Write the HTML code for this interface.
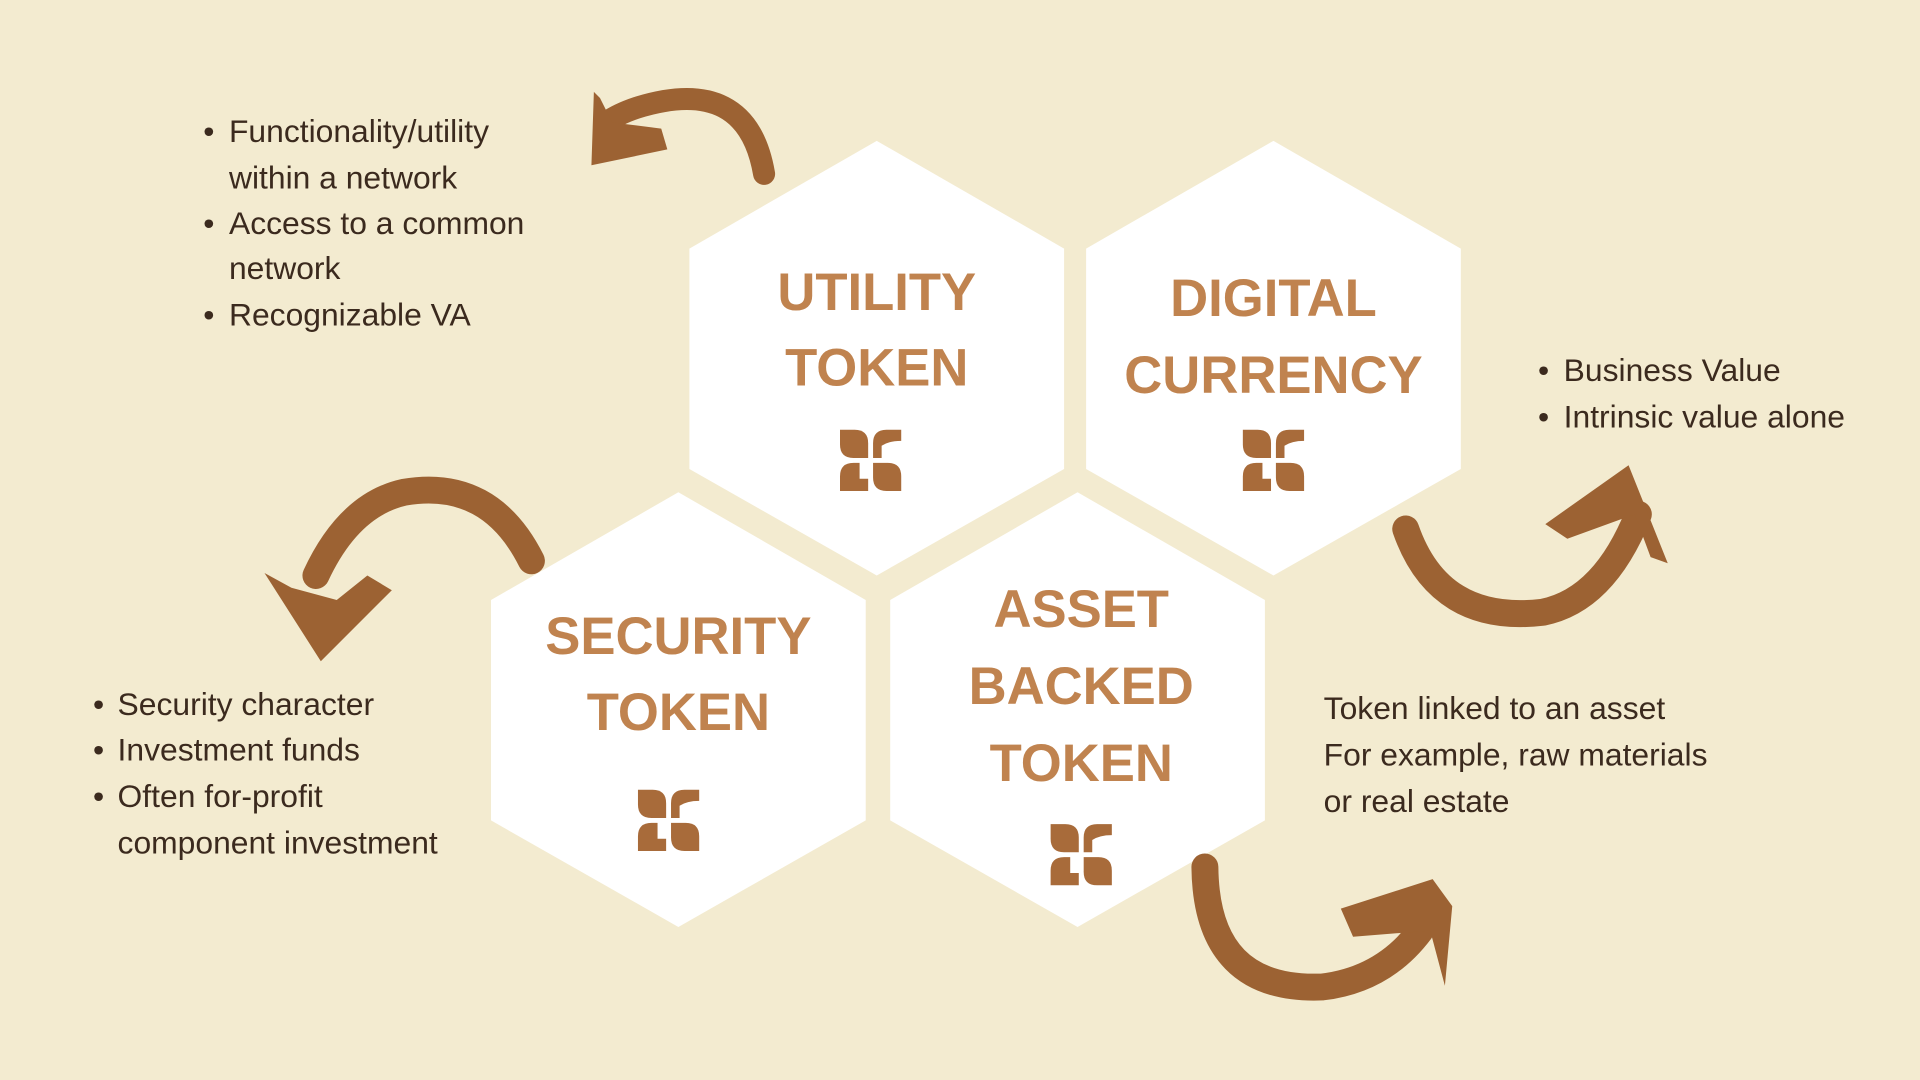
<!DOCTYPE html>
<html><head><meta charset="utf-8"><style>
html,body{margin:0;padding:0;background:#f3ebd0;}
svg{display:block}
.t{font-family:"Liberation Sans",sans-serif;font-weight:bold;font-size:43px;fill:#c0834f;text-anchor:middle}
.b{font-family:"Liberation Sans",sans-serif;font-size:26px;fill:#3b2a1e}
</style></head><body>
<svg width="1920" height="1080" viewBox="0 0 1568 882" xmlns="http://www.w3.org/2000/svg">
<rect width="1568" height="882" fill="#f3ebd0"/>
<defs>
<g id="ic" fill="#a86b3a">
<path d="M0,0 L12,0 Q23,0 23,11 L23,23 L11,23 Q0,23 0,12 Z"/>
<path d="M50,0 L38,0 Q27,0 27,11 L27,23 L34,23 L34,13 Q40,9 50,9 Z"/>
<path d="M0,50 L0,38 Q0,27 11,27 L16,27 L16,40 L23,40 L23,50 Z"/>
<path d="M50,50 L38,50 Q27,50 27,39 L27,27 L39,27 Q50,27 50,38 Z"/>
</g>
</defs>
<g fill="#fff">
<polygon points="716,115 869,203 869,383 716,470 563,383 563,203"/>
<polygon points="1040,115 1193,203 1193,383 1040,470 887,383 887,203"/>
<polygon points="554,402 707,490 707,670 554,757 401,670 401,490"/>
<polygon points="880,402 1033,490 1033,670 880,757 727,670 727,490"/>
</g>
<text class="t" x="716" y="253">UTILITY</text>
<text class="t" x="716" y="315">TOKEN</text>
<text class="t" x="1040" y="258">DIGITAL</text>
<text class="t" x="1040" y="321">CURRENCY</text>
<text class="t" x="554" y="534">SECURITY</text>
<text class="t" x="554" y="596">TOKEN</text>
<text class="t" x="883" y="512">ASSET</text>
<text class="t" x="883" y="575">BACKED</text>
<text class="t" x="883" y="638">TOKEN</text>
<use href="#ic" x="686" y="351"/>
<use href="#ic" x="1015" y="351"/>
<use href="#ic" x="521" y="645"/>
<use href="#ic" x="858" y="673"/>
<g fill="none" stroke="#9c6233" stroke-linecap="round">
<path d="M624,142 Q610,60 520,88 Q505,93 495,100" stroke-width="18"/>
<path d="M434,458 Q400,390 330,402 Q285,412 258,470" stroke-width="22"/>
<path d="M1148,432 Q1175,510 1260,500 Q1310,490 1338,420" stroke-width="22"/>
<path d="M984,708 Q985,810 1080,806 Q1130,800 1160,760" stroke-width="22"/>
</g>
<g fill="#9c6233">
<polygon points="485,75 483,135 545,122 540,105 500,100 490,80"/>
<polygon points="216,468 262,540 320,482 300,470 275,490 238,480"/>
<polygon points="1262,428 1330,380 1362,460 1348,455 1335,420 1280,440"/>
<polygon points="1095,742 1170,718 1186,740 1180,805 1168,760 1105,765"/>
</g>
<g class="b">
<text x="166" y="116">•</text><text x="187" y="116">Functionality/utility</text>
<text x="187" y="154">within a network</text>
<text x="166" y="191">•</text><text x="187" y="191">Access to a common</text>
<text x="187" y="228">network</text>
<text x="166" y="266">•</text><text x="187" y="266">Recognizable VA</text>
<text x="1256" y="311">•</text><text x="1277" y="311">Business Value</text>
<text x="1256" y="349">•</text><text x="1277" y="349">Intrinsic value alone</text>
<text x="76" y="584">•</text><text x="96" y="584">Security character</text>
<text x="76" y="621">•</text><text x="96" y="621">Investment funds</text>
<text x="76" y="659">•</text><text x="96" y="659">Often for-profit</text>
<text x="96" y="697">component investment</text>
<text x="1081" y="587">Token linked to an asset</text>
<text x="1081" y="625">For example, raw materials</text>
<text x="1081" y="663">or real estate</text>
</g>
</svg>
</body></html>
